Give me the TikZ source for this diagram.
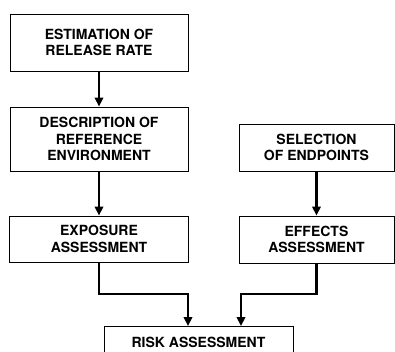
\documentclass[tikz,border=0pt]{standalone}
\usepackage{fontspec}
\setmainfont{TeX Gyre Heros}
\usetikzlibrary{arrows.meta}

\begin{document}
\begin{tikzpicture}[x=1pt, y=-1pt,
    box/.style={draw, line width=1pt, align=center, inner sep=0pt,
                font=\fontsize{14}{16.5}\selectfont\bfseries},
    flow/.style={line width=2.6pt, -{Triangle[length=9pt,width=8.5pt]}}]

  % === FRAME ===
  \useasboundingbox (0,0) rectangle (395,351);

  % === BOXES ===
  \node[box, minimum width=178, minimum height=57] (rate) at (99,42.5)
    {ESTIMATION OF\\RELEASE RATE};
  \node[box, minimum width=178, minimum height=64] (env) at (99,139)
    {DESCRIPTION OF\\REFERENCE\\ENVIRONMENT};
  \node[box, minimum width=179, minimum height=46] (expo) at (99,239)
    {EXPOSURE\\ASSESSMENT};
  \node[box, minimum width=155, minimum height=47] (ends) at (316.5,147.5)
    {SELECTION\\OF ENDPOINTS};
  \node[box, minimum width=155, minimum height=47] (effects) at (316.5,239.5)
    {EFFECTS\\ASSESSMENT};
  \node[box, minimum width=189, minimum height=32] (risk) at (198.5,342)
    {RISK ASSESSMENT};

  % === CONNECTORS ===
  \coordinate (bend) at (0,294);
  \coordinate (inL) at (188,326);
  \coordinate (inR) at (241,326);

  \draw[flow] (rate) -- (env);
  \draw[flow] (env) -- (expo);
  \draw[flow] (ends) -- (effects);
  \draw[flow] (expo.south) -- (expo.south |- bend) -| (inL);
  \draw[flow] (effects.south) -- (effects.south |- bend) -| (inR);

\end{tikzpicture}
\end{document}
